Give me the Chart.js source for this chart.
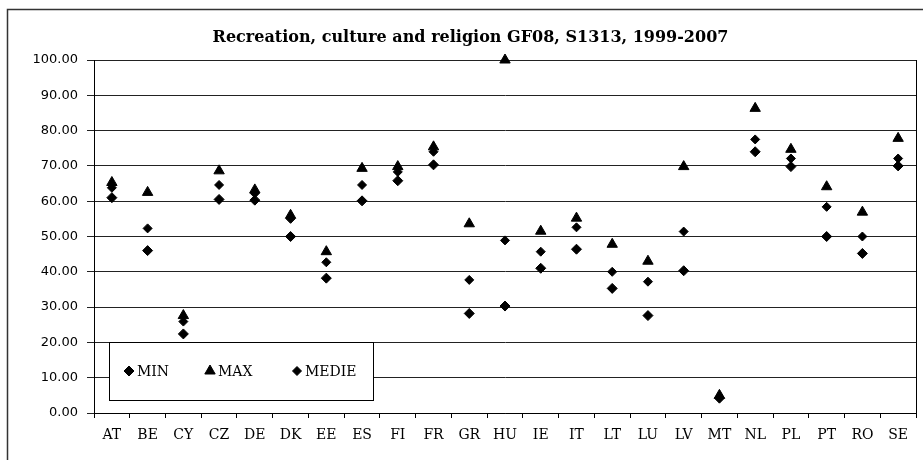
<!DOCTYPE html>
<html>
<head>
<meta charset="utf-8">
<script src="https://cdn.jsdelivr.net/npm/chart.js@4/dist/chart.umd.min.js"></script>
<style>
  body { margin: 0; background: #fff; }
  #wrap { width: 923px; height: 460px; }
</style>
</head>
<body>
<div id="wrap"><canvas id="chart" width="923" height="460"></canvas></div>
<script>
const countries = ["AT", "BE", "CY", "CZ", "DE", "DK", "EE", "ES", "FI", "FR", "GR", "HU",
  "IE", "IT", "LT", "LU", "LV", "MT", "NL", "PL", "PT", "RO", "SE"];

const minValues = [61.0, 46.0, 22.4, 60.5, 60.3, 50.0, 38.2, 60.1, 65.8, 70.3, 28.2, 30.3,
  41.0, 46.4, 35.3, 27.6, 40.3, 4.2, 74.0, 69.8, 50.0, 45.2, 70.0];
const maxValues = [65.3, 62.5, 27.6, 68.6, 63.2, 56.0, 45.7, 69.3, 69.8, 75.4, 53.6, 100.0,
  51.5, 55.2, 47.8, 43.0, 69.8, 5.0, 86.3, 74.7, 64.1, 56.9, 77.8];
const medieValues = [63.8, 52.3, 25.9, 64.6, 62.2, 55.0, 42.7, 64.6, 68.3, 74.0, 37.7, 48.9,
  45.7, 52.6, 40.0, 37.2, 51.4, 4.5, 77.5, 72.1, 58.4, 50.0, 72.1];

const titleText = "Recreation, culture and religion GF08, S1313, 1999-2007";

// outer frame (top + left) and the right edge of the plot area
const framePlugin = {
  id: "frame",
  afterDraw(chart) {
    const ctx = chart.ctx;
    const area = chart.chartArea;
    ctx.save();
    ctx.strokeStyle = "#333";
    ctx.lineWidth = 1.5;
    ctx.beginPath();
    ctx.moveTo(7.5, chart.height);
    ctx.lineTo(7.5, 9.5);
    ctx.lineTo(chart.width, 9.5);
    ctx.stroke();
    ctx.strokeStyle = "#000";
    ctx.lineWidth = 1;
    ctx.beginPath();
    ctx.moveTo(Math.round(area.right) + 0.5, area.top);
    ctx.lineTo(Math.round(area.right) + 0.5, area.bottom);
    ctx.stroke();
    ctx.restore();
  },
};

// legend box sitting inside the plot, bottom left
const boxLegend = {
  id: "boxLegend",
  afterDatasetsDraw(chart) {
    const ctx = chart.ctx;
    const y = chart.scales.y;
    const left = Math.round(chart.chartArea.left + 15);
    const top = Math.round(y.getPixelForValue(20));
    const bottom = Math.round(y.getPixelForValue(3.7));
    const width = 264;
    const offsets = [20, 101, 188];
    ctx.save();
    ctx.fillStyle = "#fff";
    ctx.fillRect(left, top, width, bottom - top);
    ctx.strokeStyle = "#000";
    ctx.lineWidth = 1;
    ctx.strokeRect(left + 0.5, top + 0.5, width, bottom - top);
    const mid = (top + bottom) / 2;
    ctx.font = "14px 'DejaVu Serif'";
    ctx.textBaseline = "middle";
    chart.data.datasets.forEach((ds, i) => {
      const x = left + offsets[i];
      ctx.fillStyle = "#000";
      ctx.strokeStyle = "#000";
      ctx.lineWidth = 1;
      Chart.helpers.drawPoint(ctx, {
        pointStyle: ds.pointStyle,
        radius: ds.pointRadius,
        rotation: 0,
        borderWidth: 1,
      }, x, mid);
      ctx.fillText(ds.label, x + 8, mid + 1);
    });
    ctx.restore();
  },
};

function series(label, values, style, radius) {
  return {
    label: label,
    data: values,
    showLine: false,
    pointStyle: style,
    pointRadius: radius,
    pointBackgroundColor: "#000",
    pointBorderColor: "#000",
    pointBorderWidth: 1,
    clip: false,
  };
}

new Chart(document.getElementById("chart"), {
  type: "line",
  data: {
    labels: countries,
    datasets: [
      series("MIN", minValues, "rectRot", 5),
      series("MAX", maxValues, "triangle", 6),
      series("MEDIE", medieValues, "rectRot", 4.5),
    ],
  },
  options: {
    responsive: false,
    animation: false,
    events: [],
    layout: { padding: { top: 9, left: 23, right: 5, bottom: 0 } },
    plugins: {
      legend: { display: false },
      tooltip: { enabled: false },
      title: {
        display: true,
        text: titleText,
        color: "#000",
        font: { family: "'DejaVu Serif'", size: 16, weight: "bold" },
        padding: { top: 19, bottom: 12.8 },
      },
    },
    scales: {
      x: {
        offset: true,
        grid: { offset: true, drawOnChartArea: false, tickLength: 5, color: "#000" },
        border: { color: "#000" },
        ticks: { color: "#000", font: { family: "'DejaVu Serif'", size: 14 }, padding: 9, maxRotation: 0 },
        afterFit(axis) { axis.height = 47; },
      },
      y: {
        min: 0,
        max: 100,
        grid: { color: "#222", tickLength: 7 },
        border: { color: "#000" },
        ticks: {
          stepSize: 10,
          color: "#000",
          padding: 9,
          font: { family: "'DejaVu Sans'", size: 13 },
          callback: (v) => v.toFixed(2),
        },
        afterFit(axis) { axis.width = 71; },
      },
    },
  },
  plugins: [boxLegend, framePlugin],
});
</script>
</body>
</html>
